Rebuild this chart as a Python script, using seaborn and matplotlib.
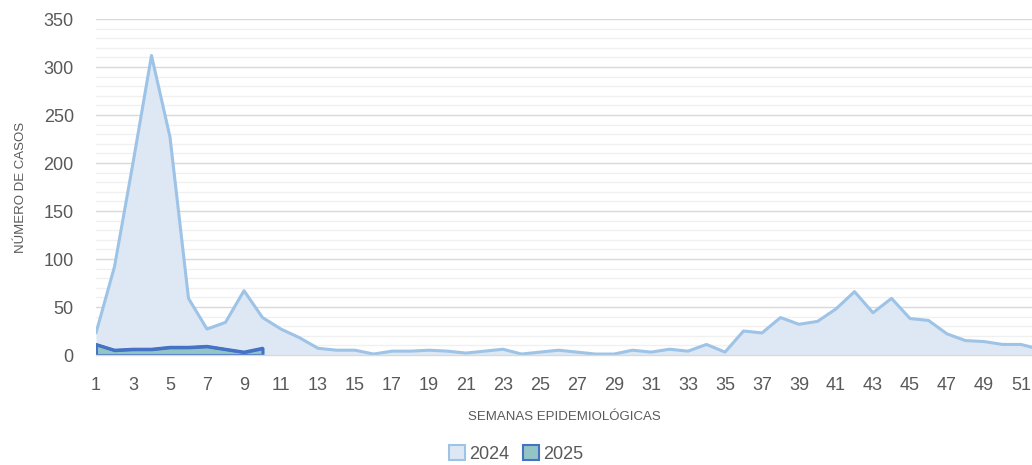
import matplotlib
matplotlib.use("Agg")
import matplotlib.pyplot as plt
import matplotlib.patches as mpatches
from matplotlib.ticker import MultipleLocator
import seaborn as sns
import pandas as pd

weeks_2024 = list(range(1, 53))
cases_2024 = [23, 92, 200, 312, 227, 59, 27, 34, 67, 39,
              27, 18, 7, 5, 5, 1, 4, 4, 5, 4,
              2, 4, 6, 1, 3, 5, 3, 1, 1, 5,
              3, 6, 4, 11, 3, 25, 23, 39, 32, 35,
              48, 66, 44, 59, 38, 36, 22, 15, 14, 11,
              11, 6]
weeks_2025 = list(range(1, 11))
cases_2025 = [11, 5, 6, 6, 8, 8, 9, 6, 3, 7]
xtick_labels = [str(w) for w in range(1, 52, 2)]
series_names = ["2024", "2025"]

sns.set_theme(style="white")
plt.rcParams['font.family'] = ['Liberation Sans Narrow', 'Liberation Sans', 'DejaVu Sans']

df24 = pd.DataFrame({"semana": weeks_2024, "casos": cases_2024})
df25 = pd.DataFrame({"semana": weeks_2025, "casos": cases_2025})

fig = plt.figure(figsize=(10.32, 4.65), dpi=100)
ax = fig.add_axes([96/1032, 110/465, (1032-96)/1032, 336/465])

fill24, line24 = "#DEE8F4", "#9DC3E6"
fill25, line25 = "#93C5C6", "#4472C4"

ax.fill_between(df24["semana"], df24["casos"], color=fill24, linewidth=0, zorder=2)
sns.lineplot(data=df24, x="semana", y="casos", ax=ax, color=line24, linewidth=2.2, zorder=3)
ax.fill_between(df25["semana"], df25["casos"], facecolor=fill25, edgecolor=line25,
                linewidth=2.2, zorder=4)
sns.lineplot(data=df25, x="semana", y="casos", ax=ax, color=line25, linewidth=2.2, zorder=5)

ax.set_xlim(1, 1 + (1032-96)/18.5)
ax.set_ylim(0, 350)
ax.yaxis.set_major_locator(MultipleLocator(50))
ax.yaxis.set_minor_locator(MultipleLocator(10))
ax.grid(which="major", axis="y", color="#D9D9D9", linewidth=1.0, zorder=0)
ax.grid(which="minor", axis="y", color="#F0F0F0", linewidth=1.0, zorder=0)
ax.set_axisbelow(True)
ax.set_xticks(range(1, 52, 2))
ax.set_xticklabels(xtick_labels)
ax.tick_params(axis="x", length=0, pad=16, labelsize=13, labelcolor="#595959")
ax.tick_params(axis="y", length=0, pad=16, labelsize=13, labelcolor="#595959", which="both")
for s in ["top", "right", "left"]:
    ax.spines[s].set_visible(False)
ax.spines["bottom"].set_color("#D9D9D9")
ax.spines["bottom"].set_linewidth(1.0)
ax.spines["bottom"].set_zorder(6)

ax.set_xlabel("SEMANAS EPIDEMIOLÓGICAS", fontsize=9.5, color="#595959", labelpad=12)
ax.set_ylabel("NÚMERO DE CASOS", fontsize=9.5, color="#595959", labelpad=12)

handles = [mpatches.Patch(facecolor=fill24, edgecolor=line24, linewidth=1.5, label=series_names[0]),
           mpatches.Patch(facecolor=fill25, edgecolor=line25, linewidth=1.5, label=series_names[1])]
fig.legend(handles=handles, loc="center", bbox_to_anchor=(0.5, 0.024), ncol=2, frameon=False,
           fontsize=13, labelcolor="#595959", handlelength=0.9, handleheight=0.9,
           handletextpad=0.2, columnspacing=0.8)

fig.savefig("out.png", dpi=100)
